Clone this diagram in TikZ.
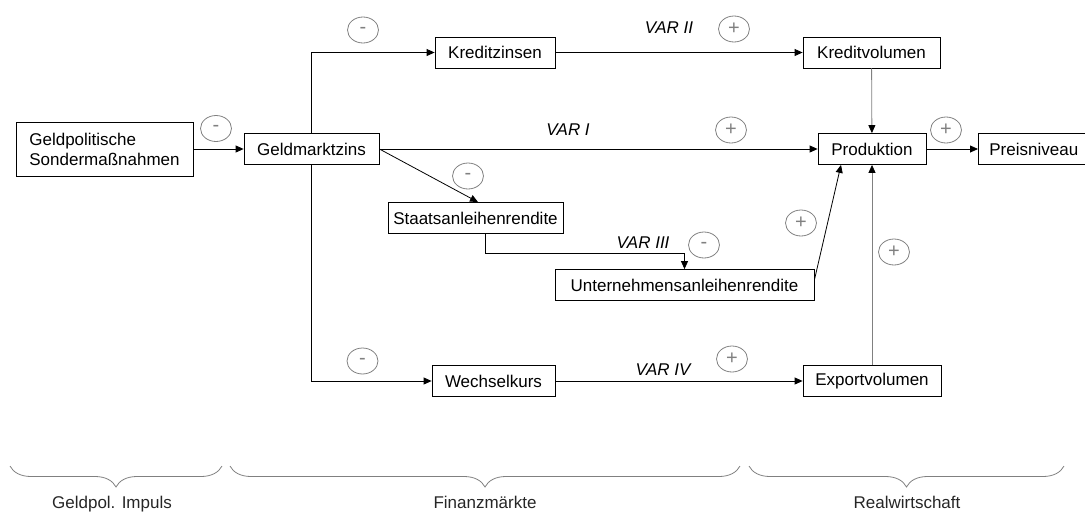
\documentclass[tikz,border=0pt]{standalone}
\usepackage{fontspec}
\setmainfont{Liberation Sans}
\usetikzlibrary{arrows.meta,decorations.pathreplacing,shapes.geometric}
\begin{document}
\begin{tikzpicture}[x=1pt,y=-1pt,
  box/.style={draw=black, line width=0.8pt, minimum height=31, inner sep=0pt, font=\fontsize{17}{20}\selectfont},
  arr/.style={line width=0.8pt, -{Triangle[length=8pt,width=7pt]}},
  garr/.style={line width=0.8pt, draw=gray, -{Triangle[length=8pt,width=7pt,color=black]}},
  sgn/.style={ellipse, draw=gray, line width=0.8pt, minimum width=31, minimum height=26, inner sep=0pt, text=gray, font=\fontsize{20}{20}\selectfont},
  var/.style={inner sep=0pt, font=\fontsize{17}{20}\selectfont\itshape},
  lab/.style={inner sep=0pt, anchor=base, font=\fontsize{17}{20}\selectfont, text=black!85},
  brc/.style={decorate, decoration={brace, mirror, amplitude=21pt}, draw=gray, line width=0.8pt}
]
\useasboundingbox (0,0) rectangle (1085,512);

% boxes
\node[box, minimum width=177, minimum height=54, align=left] (gp) at (104.5,149) {Geldpolitische\\Sondermaßnahmen};
\node[box, minimum width=135] (gmz) at (311.5,149) {Geldmarktzins};
\node[box, minimum width=120] (kz) at (495,52.5) {Kreditzinsen};
\node[box, minimum width=137] (kv) at (871.5,52.5) {Kreditvolumen};
\node[box, minimum width=108] (prod) at (872,149) {Produktion};
\node[box, anchor=west, text width=100, align=left, inner xsep=11pt] (pn) at (978,149) {Preisniveau};
\node[box, minimum width=175] (sa) at (475.5,218) {Staatsanleihenrendite};
\node[box, minimum width=259] (ua) at (684.5,285) {Unternehmensanleihenrendite};
\node[box, minimum width=123] (wk) at (493.5,381) {Wechselkurs};
\node[box, minimum width=138] (ev) at (872,381) {Exportvolumen};

% connectors
\draw[arr] (gp) -- (gmz);
\draw[arr] (gmz.north) |- (kz.west);
\draw[arr] (gmz.south) |- (wk.west);
\draw[arr] (kz) -- (kv);
\draw[arr] (wk) -- (ev);
\draw[arr] (gmz.east) -- (prod.west);
\draw[arr] (gmz.east) -- ([xshift=2.5pt]sa.north);
\draw[arr] ([xshift=9.5pt]sa.south) -- ++(0,19) -| (ua.north);
\draw[arr] ([yshift=5pt]ua.east) -- ([xshift=-31pt]prod.south);
\draw[garr] (kv) -- (prod);
\draw[garr] (ev) -- (prod);
\draw[arr] (prod) -- (pn);

% signs
\node[sgn] (s1) at (363,30) {-};
\node[sgn] (s2) at (734,29) {+};
\node[sgn] (s3) at (216,128.5) {-};
\node[sgn] (s4) at (731,130) {+};
\node[sgn] (s5) at (946,130) {+};
\node[sgn] (s6) at (468,176) {-};
\node[sgn] (s7) at (801,223) {+};
\node[sgn] (s8) at (704,245) {-};
\node[sgn] (s9) at (894,252) {+};
\node[sgn] (s10) at (362.5,361) {-};
\node[sgn] (s11) at (732,359) {+};

% VAR labels
\node[var] (v2) at (669,28) {VAR II};
\node[var] (v1) at (568,130) {VAR I};
\node[var] (v3) at (643,243) {VAR III};
\node[var] (v4) at (663,370) {VAR IV};

% braces
\coordinate (b1a) at (10,466);
\coordinate (b1b) at (222,466);
\coordinate (b2a) at (230,466);
\coordinate (b2b) at (740,466);
\coordinate (b3a) at (749,466);
\coordinate (b3b) at (1064,466);
\draw[brc] (b1a) -- (b1b);
\draw[brc] (b2a) -- (b2b);
\draw[brc] (b3a) -- (b3b);
\node[lab] (l1) at (112,508) {Geldpol. Impuls};
\node[lab] (l2) at (485,508) {Finanzmärkte};
\node[lab] (l3) at (907,508) {Realwirtschaft};
\end{tikzpicture}
\end{document}
